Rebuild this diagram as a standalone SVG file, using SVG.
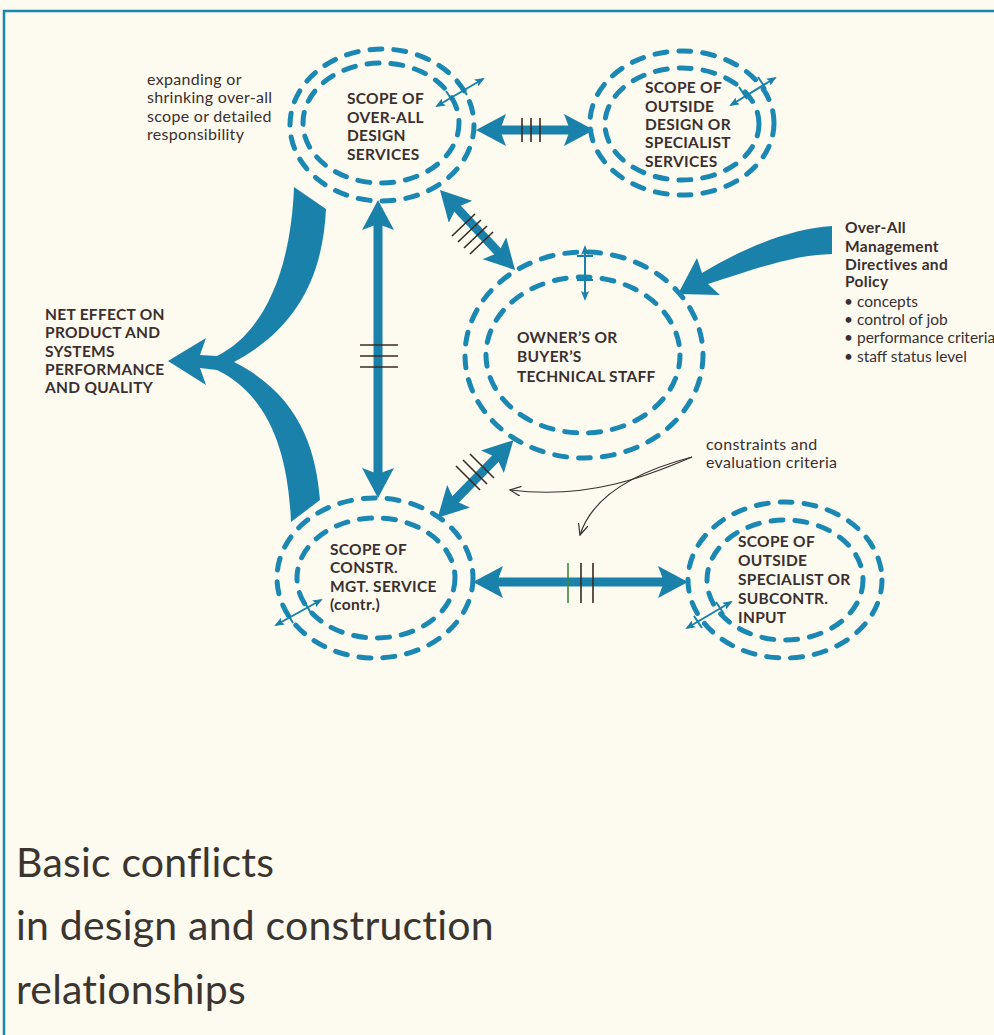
<svg xmlns="http://www.w3.org/2000/svg" width="994" height="1035" viewBox="0 0 994 1035">
<style>
.bg{fill:#fdfaf0}
.frame{stroke:#1b86b0;stroke-width:2.5;fill:none}
.ring{fill:none;stroke:#1a88b2;stroke-width:5;stroke-dasharray:12 12;stroke-linecap:round}
.shaft{stroke:#1a82aa;stroke-width:9;fill:none}
.band{fill:#1a82aa}
.thin{stroke:#1a82aa;stroke-width:2;fill:none}
.tick{stroke:#3a2a22;stroke-width:1.6}
.tickg{stroke:#3c8a3c;stroke-width:1.6}
.note{stroke:#3a3030;stroke-width:1.2;fill:none}
.lbl{font-family:Lato,"Liberation Sans",sans-serif;font-weight:700;font-size:15.5px;letter-spacing:0.3px;fill:#3a3030}
.txt{font-family:Lato,"Liberation Sans",sans-serif;font-size:16px;letter-spacing:0.3px;fill:#3a3030}
.bul{font-family:Lato,"Liberation Sans",sans-serif;font-size:15.5px;fill:#3a3030}
.title{font-family:Lato,"Liberation Sans",sans-serif;font-size:41px;letter-spacing:0.2px;fill:#3b3530;font-variant-ligatures:none}
</style>
<defs>
<marker id="big" viewBox="0 0 30 32" refX="8" refY="16" markerWidth="30" markerHeight="32" markerUnits="userSpaceOnUse" orient="auto-start-reverse">
<path d="M30,16 L0,0 L6,16 L0,32 Z" fill="#1a82aa"/>
</marker>
<marker id="sm" viewBox="0 0 10 8" refX="8" refY="4" markerWidth="10" markerHeight="8" markerUnits="userSpaceOnUse" orient="auto-start-reverse">
<path d="M10,4 L0,0 L2,4 L0,8 Z" fill="#1a82aa"/>
</marker>
<marker id="open" viewBox="0 0 12 10" refX="11" refY="5" markerWidth="12" markerHeight="10" markerUnits="userSpaceOnUse" orient="auto">
<path d="M0,0 L11,5 L0,10" fill="none" stroke="#3a3030" stroke-width="1.2"/>
</marker>
</defs>
<rect class="bg" x="0" y="0" width="994" height="1035"/>
<path class="frame" d="M4,1035 L4,11 L994,11"/>

<g id="connectors">
<path class="band" d="M294,187 L326,209 C323,272 300,327 234,362 C300,395 316,450 320,500 L291,522 C288,450 268,395 217,370 L200,368 L206,385 L168,361 L206,338 L200,355 L217,356 C264,333 291,270 294,187 Z"/>
<path class="band" d="M832,226 L832,254 C795,255 760,267 708,284 L720,295 L678,294 L697,258 L702,273 C745,247 790,229 832,226 Z"/>
<line class="shaft" x1="498" y1="130" x2="572" y2="130" marker-start="url(#big)" marker-end="url(#big)"/>
<line class="tick" x1="522" y1="118" x2="522" y2="142"/>
<line class="tick" x1="531" y1="118" x2="531" y2="142"/>
<line class="tick" x1="540" y1="118" x2="540" y2="142"/>
<line class="shaft" x1="455" y1="206" x2="500" y2="254" marker-start="url(#big)" marker-end="url(#big)"/>
<line class="tick" x1="452" y1="236" x2="475" y2="214"/>
<line class="tick" x1="458" y1="242" x2="481" y2="220"/>
<line class="tick" x1="464" y1="248" x2="487" y2="226"/>
<line class="tick" x1="470" y1="254" x2="493" y2="232"/>
<line class="shaft" x1="378" y1="222" x2="378" y2="476" marker-start="url(#big)" marker-end="url(#big)"/>
<line class="tick" x1="360" y1="345" x2="398" y2="345"/>
<line class="tick" x1="360" y1="356" x2="398" y2="356"/>
<line class="tick" x1="360" y1="367" x2="398" y2="367"/>
<line class="shaft" x1="453" y1="502" x2="498" y2="456" marker-start="url(#big)" marker-end="url(#big)"/>
<line class="tick" x1="456" y1="466" x2="480" y2="490"/>
<line class="tick" x1="463" y1="460" x2="487" y2="484"/>
<line class="tick" x1="470" y1="454" x2="494" y2="478"/>
<line class="shaft" x1="495" y1="582" x2="666" y2="582" marker-start="url(#big)" marker-end="url(#big)"/>
<line class="tickg" x1="568" y1="563" x2="568" y2="603"/>
<line class="tick" x1="581" y1="563" x2="581" y2="603"/>
<line class="tick" x1="593" y1="563" x2="593" y2="603"/>
<path class="note" d="M692,457 C650,475 590,500 510,490" marker-end="url(#open)"/>
<path class="note" d="M692,457 C635,472 592,497 580,535" marker-end="url(#open)"/>
</g>

<g id="node-design">
<ellipse class="ring" cx="382" cy="125" rx="92" ry="76"/>
<ellipse class="ring" cx="381" cy="123" rx="78" ry="60"/>
<line class="thin" x1="437" y1="106" x2="483" y2="79" marker-start="url(#sm)" marker-end="url(#sm)"/>
<line class="thin" x1="446" y1="91" x2="454" y2="103"/>
<line class="thin" x1="459" y1="83" x2="467" y2="95"/>
<text class="lbl"><tspan x="347" y="104">SCOPE OF</tspan><tspan x="347" y="123">OVER-ALL</tspan><tspan x="347" y="141">DESIGN</tspan><tspan x="347" y="160">SERVICES</tspan></text>
</g>

<g id="node-outside-design">
<ellipse class="ring" cx="682" cy="123" rx="92" ry="72"/>
<ellipse class="ring" cx="682" cy="124" rx="77" ry="56"/>
<line class="thin" x1="731" y1="105" x2="775" y2="78" marker-start="url(#sm)" marker-end="url(#sm)"/>
<line class="thin" x1="739" y1="87" x2="747" y2="99"/>
<line class="thin" x1="758" y1="77" x2="766" y2="89"/>
<text class="lbl"><tspan x="645" y="93">SCOPE OF</tspan><tspan x="645" y="112">OUTSIDE</tspan><tspan x="645" y="130">DESIGN OR</tspan><tspan x="645" y="148">SPECIALIST</tspan><tspan x="645" y="167">SERVICES</tspan></text>
</g>

<g id="node-owner">
<ellipse class="ring" cx="584" cy="355" rx="119" ry="103"/>
<ellipse class="ring" cx="583" cy="355" rx="97" ry="78"/>
<line class="thin" x1="585" y1="247" x2="585" y2="299" marker-start="url(#sm)" marker-end="url(#sm)"/>
<line class="thin" x1="577" y1="256" x2="593" y2="256"/>
<line class="thin" x1="577" y1="280" x2="593" y2="280"/>
<text class="lbl"><tspan x="517" y="343">OWNER’S OR</tspan><tspan x="517" y="362">BUYER’S</tspan><tspan x="517" y="382">TECHNICAL STAFF</tspan></text>
</g>

<g id="node-constr">
<ellipse class="ring" cx="375" cy="578" rx="98" ry="80"/>
<ellipse class="ring" cx="376" cy="578" rx="79" ry="60"/>
<line class="thin" x1="276" y1="625" x2="321" y2="600" marker-start="url(#sm)" marker-end="url(#sm)"/>
<line class="thin" x1="286" y1="611" x2="293" y2="623"/>
<line class="thin" x1="304" y1="601" x2="311" y2="613"/>
<text class="lbl"><tspan x="330" y="555">SCOPE OF</tspan><tspan x="330" y="573">CONSTR.</tspan><tspan x="330" y="592">MGT. SERVICE</tspan><tspan x="330" y="610">(contr.)</tspan></text>
</g>

<g id="node-subcontr">
<ellipse class="ring" cx="785" cy="580" rx="97" ry="78"/>
<ellipse class="ring" cx="785" cy="580" rx="78" ry="60"/>
<line class="thin" x1="687" y1="628" x2="731" y2="602" marker-start="url(#sm)" marker-end="url(#sm)"/>
<line class="thin" x1="694" y1="616" x2="702" y2="628"/>
<line class="thin" x1="716" y1="602" x2="724" y2="614"/>
<text class="lbl"><tspan x="738" y="547">SCOPE OF</tspan><tspan x="738" y="566">OUTSIDE</tspan><tspan x="738" y="585">SPECIALIST OR</tspan><tspan x="738" y="604">SUBCONTR.</tspan><tspan x="738" y="623">INPUT</tspan></text>
</g>

<g id="label-net-effect">
<text class="lbl"><tspan x="45" y="320">NET EFFECT ON</tspan><tspan x="45" y="338">PRODUCT AND</tspan><tspan x="45" y="357">SYSTEMS</tspan><tspan x="45" y="375">PERFORMANCE</tspan><tspan x="45" y="393">AND QUALITY</tspan></text>
</g>

<g id="label-expanding">
<text class="txt"><tspan x="147" y="85">expanding or</tspan><tspan x="147" y="103">shrinking over-all</tspan><tspan x="147" y="122">scope or detailed</tspan><tspan x="147" y="140">responsibility</tspan></text>
</g>

<g id="label-management">
<text class="lbl"><tspan x="845" y="233">Over-All</tspan><tspan x="845" y="252">Management</tspan><tspan x="845" y="270">Directives and</tspan><tspan x="845" y="287">Policy</tspan></text>
<text class="bul"><tspan x="844" y="307">• concepts</tspan><tspan x="844" y="325">• control of job</tspan><tspan x="844" y="343">• performance criteria</tspan><tspan x="844" y="362">• staff status level</tspan></text>
</g>

<g id="label-constraints">
<text class="txt"><tspan x="706" y="450">constraints and</tspan><tspan x="706" y="468">evaluation criteria</tspan></text>
</g>

<g id="title">
<text class="title"><tspan x="16" y="877">Basic conflicts</tspan><tspan x="16" y="940">in design and construction</tspan><tspan x="16" y="1004">relationships</tspan></text>
</g>
</svg>
